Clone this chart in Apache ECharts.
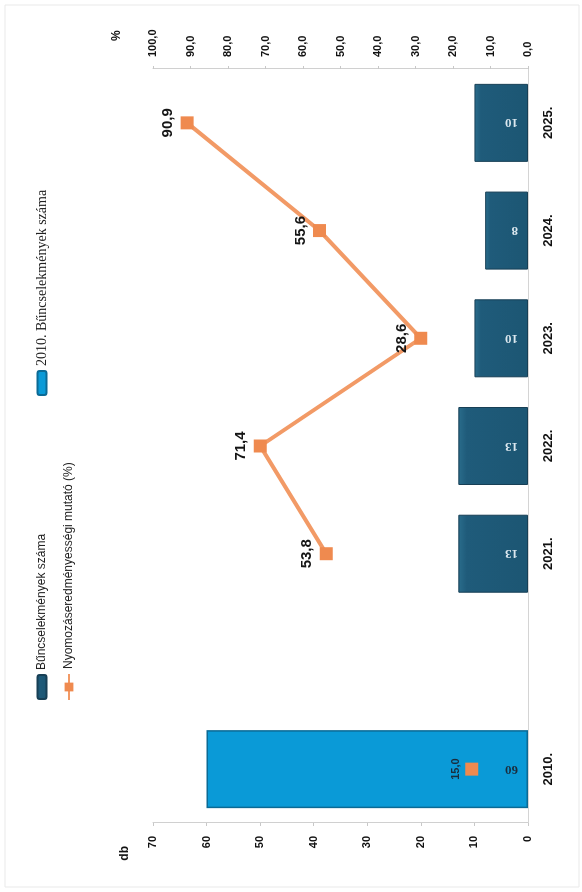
<!DOCTYPE html>
<html>
<head>
<meta charset="utf-8">
<script src="https://cdn.jsdelivr.net/npm/echarts@6/dist/echarts.min.js"></script>
<style>
html,body{margin:0;padding:0;width:582px;height:892px;overflow:hidden;background:#fff;}
#wrap{position:absolute;left:0;top:0;width:892px;height:582px;transform-origin:0 0;transform:translateY(892px) rotate(-90deg);}
#chart{width:892px;height:582px;}
</style>
</head>
<body>
<div id="wrap"><div id="chart"></div></div>
<script>
// ---- data ----
const categories = ['2010.', '', '2021.', '2022.', '2023.', '2024.', '2025.'];
const crimeCounts = ['-', '-', 13, 13, 10, 8, 10];
const crimeCount2010 = [60, '-', '-', '-', '-', '-', '-'];
const clearanceRate = [15.0, '-', 53.8, 71.4, 28.6, 55.6, 90.9];
const dbAxis = { min: 0, max: 70, interval: 10 };
const pctAxis = { min: 0, max: 100, interval: 10 };
const seriesNames = ['Bűncselekmények száma', 'Nyomozáseredményességi mutató (%)', '2010. Bűncselekmények száma'];

// ---- chart ----
const FONT = 'Liberation Sans, Arial, sans-serif';
const SERIF = 'Liberation Serif, Times New Roman, serif';
const chart = echarts.init(document.getElementById('chart'), null, { renderer: 'canvas' });
const comma1 = v => Number(v).toFixed(1).replace('.', ',');

const lineData = clearanceRate.map((v, i) => {
  if (v === '-') return '-';
  if (i === 0) {
    return { value: v, label: { fontSize: 11, color: '#1b2c3c', distance: 4 } };
  }
  return v;
});

chart.setOption({
  backgroundColor: '#ffffff',
  animation: false,
  graphic: [{
    type: 'rect', shape: { x: 5, y: 5, width: 882, height: 574 },
    style: { fill: 'none', stroke: '#e9e9e9', lineWidth: 1 }, silent: true
  }],
  legend: [
    { data: [seriesNames[0]], left: 187, top: 31, itemWidth: 24, itemHeight: 9, icon: 'roundRect',
      textStyle: { fontFamily: FONT, fontSize: 12, color: '#222' }, itemGap: 4 },
    { data: [seriesNames[1]], left: 186, top: 58, itemWidth: 26, itemHeight: 11,
      textStyle: { fontFamily: FONT, fontSize: 12, color: '#222' } },
    { data: [seriesNames[2]], left: 491, top: 30, itemWidth: 24, itemHeight: 9, icon: 'roundRect',
      textStyle: { fontFamily: SERIF, fontSize: 14, color: '#222' } }
  ],
  grid: { left: 69, right: 69, top: 153, bottom: 54, containLabel: false },
  xAxis: {
    type: 'category',
    data: categories,
    axisLine: { show: true, lineStyle: { color: '#d4d4d4', width: 1 } },
    axisTick: { show: false },
    axisLabel: { fontFamily: FONT, fontSize: 13, fontWeight: 'bold', color: '#111', margin: 14 }
  },
  yAxis: [
    {
      type: 'value', position: 'left', min: dbAxis.min, max: dbAxis.max, interval: dbAxis.interval,
      name: 'db', nameLocation: 'end', nameGap: 22,
      nameTextStyle: { fontFamily: FONT, fontSize: 12, fontWeight: 'bold', color: '#111', align: 'right', padding: [0, 23, 0, 0] },
      axisLine: { show: true, lineStyle: { color: '#d0d0d0' } },
      axisTick: { show: true, length: 3, lineStyle: { color: '#c8c8c8' } },
      splitLine: { show: false },
      axisLabel: { fontFamily: FONT, fontSize: 11, fontWeight: 'bold', color: '#111', margin: 13 }
    },
    {
      type: 'value', position: 'right', min: pctAxis.min, max: pctAxis.max, interval: pctAxis.interval,
      name: '%', nameLocation: 'end', nameGap: 30,
      nameTextStyle: { fontFamily: FONT, fontSize: 12, fontWeight: 'bold', color: '#111', align: 'left', padding: [0, 0, 0, 28] },
      axisLine: { show: true, lineStyle: { color: '#d0d0d0' } },
      axisTick: { show: true, length: 3, lineStyle: { color: '#c8c8c8' } },
      splitLine: { show: false },
      axisLabel: { fontFamily: FONT, fontSize: 11, fontWeight: 'bold', color: '#111', margin: 12, formatter: comma1 }
    }
  ],
  series: [
    {
      name: seriesNames[0], type: 'bar', stack: 'db', yAxisIndex: 0, data: crimeCounts,
      barWidth: 78,
      itemStyle: {
        color: new echarts.graphic.LinearGradient(0, 0, 0, 1, [
          { offset: 0, color: '#2a6d8c' }, { offset: 0.12, color: '#1f5b7a' }, { offset: 1, color: '#1c5673' }
        ]),
        borderColor: '#173f55', borderWidth: 1
      },
      label: {
        show: true, position: 'insideBottom', distance: 10, rotate: 90, align: 'left', verticalAlign: 'middle',
        fontFamily: SERIF, fontSize: 13, fontWeight: 'bold', color: '#dce8ef'
      },
      z: 2
    },
    {
      name: seriesNames[2], type: 'bar', stack: 'db', yAxisIndex: 0, data: crimeCount2010,
      barWidth: 78,
      itemStyle: { color: '#0a9ad7', borderColor: '#0b6a95', borderWidth: 1.5 },
      label: {
        show: true, position: 'insideBottom', distance: 10, rotate: 90, align: 'left', verticalAlign: 'middle',
        fontFamily: SERIF, fontSize: 13, fontWeight: 'bold', color: '#1b2c3c'
      },
      z: 2
    },
    {
      name: seriesNames[1], type: 'line', yAxisIndex: 1, data: lineData,
      connectNulls: false,
      lineStyle: { color: '#f29a66', width: 4 },
      itemStyle: { color: '#ef8a4f' },
      symbol: 'rect', symbolSize: 13, showAllSymbol: true,
      label: {
        show: true, position: 'top', distance: 5,
        fontFamily: FONT, fontSize: 15, fontWeight: 'bold', color: '#151515',
        formatter: p => comma1(p.value)
      },
      z: 5
    }
  ]
});
</script>
</body>
</html>
